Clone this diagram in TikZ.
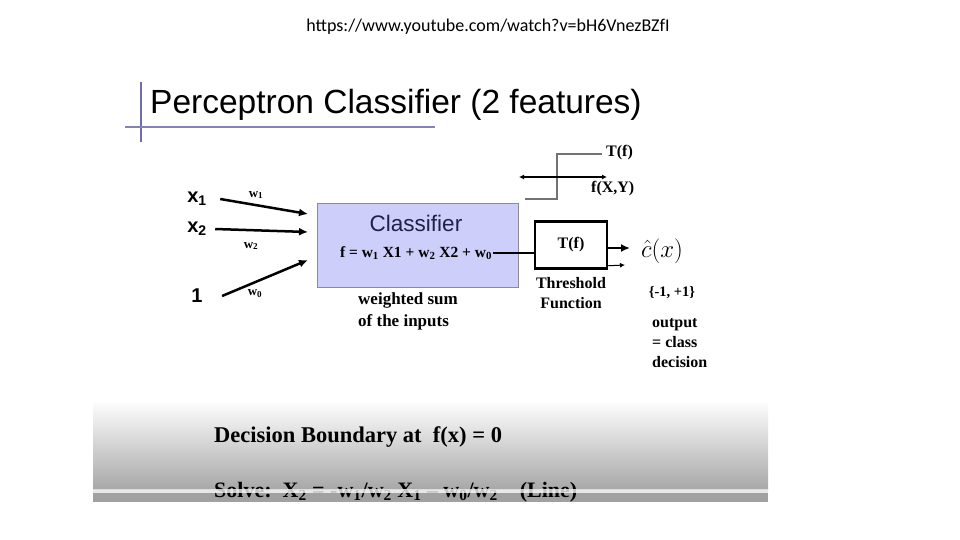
\documentclass[tikz,border=0pt]{standalone}
\usepackage{fontspec}
\setmainfont{Liberation Serif}
\setsansfont{Liberation Sans}
\newfontfamily\urlfont{Carlito}
\usetikzlibrary{arrows.meta, positioning, calc}
\definecolor{slideBar}{RGB}{112, 108, 168}
\definecolor{clfFill}{RGB}{206, 206, 250}
\definecolor{clfText}{RGB}{32, 32, 72}

\tikzset{
  tnr/.style={font=\bfseries\fontsize{#1pt}{1.25\dimexpr #1pt\relax}\selectfont},
  tnr/.default=16,
  inlabel/.style={font=\sffamily\bfseries\fontsize{20}{22}\selectfont},
  wlabel/.style={font=\bfseries\fontsize{13}{13}\selectfont},
  wire/.style={line width=2.5pt, -{Latex[length=9pt,width=8pt]}},
}

\begin{document}
\begin{tikzpicture}[x=1pt, y=-1pt]
  \useasboundingbox[fill=white] (0,0) rectangle (960,540);
  % slide footer shading
  \shade[top color=white, bottom color=black!34] (93,400) rectangle (768,489);
  \fill[black!37] (93,493) rectangle (768,502);

  \node[font=\urlfont\fontsize{18}{20}\selectfont] (url) at (488,27) {https://www.youtube.com/watch?v=bH6VnezBZfI};

  % title
  \draw[slideBar, line width=2pt] (141,82) -- (141,142);
  \draw[slideBar!85, line width=2.5pt] (125,127) -- (435,127);
  \node[anchor=base west, inner sep=0, font=\sffamily\fontsize{33.5}{36}\selectfont] (title) at (150,114) {Perceptron Classifier (2 features)};

  % inputs and weights
  \foreach \n/\y/\lab in {xa/199/{x\textsubscript{1}}, xb/229/{x\textsubscript{2}}, one/296/1}
    \node[inlabel] (\n) at (197,\y) {\lab};
  \coordinate (ina) at (308,214);
  \coordinate (inb) at (308,232);
  \coordinate (inc) at (308,260);
  \draw[wire] ([xshift=10pt]xa.east) -- (ina);
  \draw[wire] ([xshift=5pt]xb.east) -- (inb);
  \draw[wire] ([xshift=16pt]one.east) -- (inc);
  \node[wlabel] (wa) at (256,195) {w\textsubscript{1}};
  \node[wlabel] (wb) at (251,246) {w\textsubscript{2}};
  \node[wlabel] (wc) at (255,294) {w\textsubscript{0}};

  % classifier
  \node[draw=black!45, fill=clfFill, minimum width=201pt, minimum height=84pt] (clf) at (417.5,245) {};
  \node[font=\sffamily\fontsize{22.5}{24}\selectfont, text=clfText] (clfname) at (416,223) {Classifier};
  \node[tnr=15.5] (clfeq) at (416,253) {f = w\textsubscript{1} X1 + w\textsubscript{2} X2 + w\textsubscript{0}};
  \node[tnr=17, align=left, anchor=north west, inner sep=0] (wsum) at (358,293) {weighted sum\\of the inputs};

  % threshold
  \node[draw, line width=2.5pt, minimum width=72pt, minimum height=47pt, tnr] (thr) at (571,245) {T(f)};
  \node[tnr, align=center, anchor=north, inner sep=0] (thrlbl) at ([yshift=-7pt]thr.south) {Threshold\\Function};
  \draw[line width=2.5pt] ([xshift=-2pt]clfeq.east) -- (clfeq.east -| thr.west);
  \coordinate (outa) at (630,248);
  \coordinate (outb) at (625,265);
  \draw[wire] ([yshift=-3pt]thr.east) -- (outa);
  \draw[line width=1pt, -{Latex[length=5pt,width=5pt]}] ([yshift=4pt]thr.south east) -- (outb);

  % step function sketch
  \coordinate (fl) at (519,177);
  \coordinate (fr) at (607,177);
  \draw[black!55, line width=2pt] (525,199) -- (557,199) -- (557,154) -- (602,154);
  \draw[line width=1.2pt, {Latex[length=5pt,width=5pt]}-{Latex[length=5pt,width=5pt]}] (fl) -- (fr);
  \node[tnr, anchor=west, inner sep=0] (tf) at (606,153) {T(f)};
  \node[tnr, anchor=west, inner sep=0] (fxy) at (591,189) {f(X,Y)};

  % output
  \node[font=\fontsize{25}{27}\selectfont, inner sep=1pt] (chat) at (662,251) {$\hat{c}(x)$};
  \node[tnr=14.5] (range) at (672,293) {\{-1, +1\}};
  \node[tnr, align=left, anchor=north west, inner sep=0] (outtxt) at (652,318) {output\\= class\\decision};

  % decision boundary
  \node[tnr=22.5, anchor=base west, inner sep=0] (bound) at (214,442) {Decision Boundary at\ \ f(x) = 0};
  \begin{scope}
    \clip (93,0) rectangle (768,502);
    \node[tnr=22, anchor=base west, inner sep=0] (solve) at (214,497) {Solve:\ \ X\textsubscript{2} = -w\textsubscript{1}/w\textsubscript{2} X\textsubscript{1} -- w\textsubscript{0}/w\textsubscript{2}\ \ \ \ (Line)};
  \end{scope}
  \fill[black!10, opacity=0.85] (93,489) rectangle (768,493);
\end{tikzpicture}
\end{document}
